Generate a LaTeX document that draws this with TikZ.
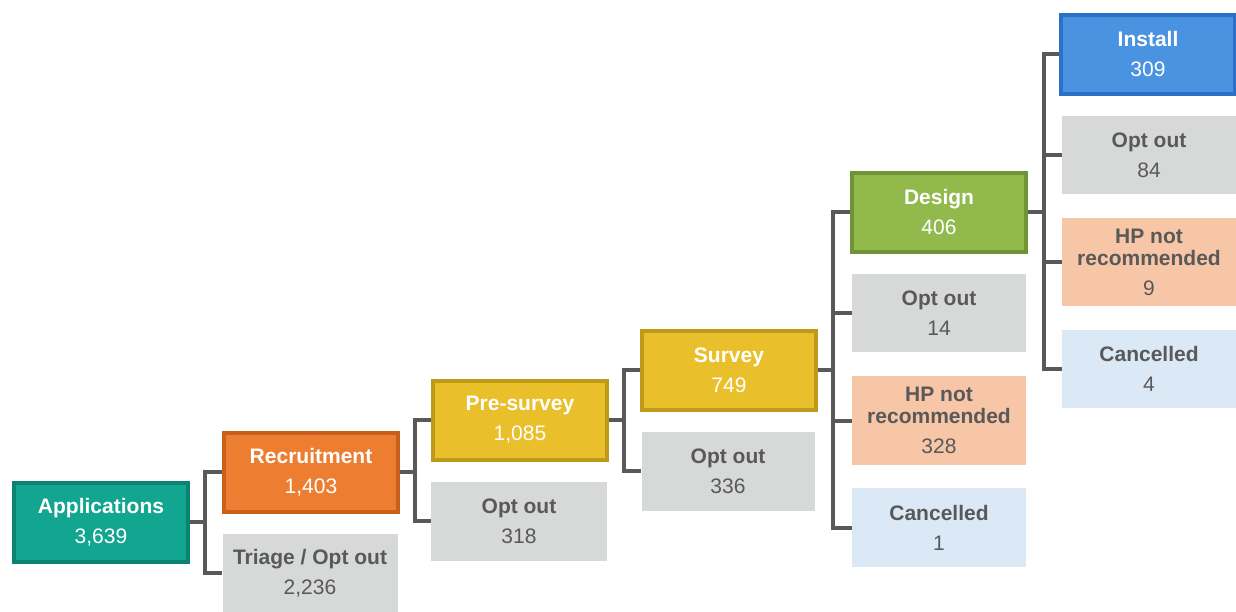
\documentclass[tikz,border=0pt]{standalone}
\usepackage{fontspec}
\setmainfont{Liberation Sans}
\definecolor{lineg}{HTML}{595959}
\definecolor{txtg}{HTML}{595959}
\definecolor{tealF}{HTML}{12A58F}
\definecolor{tealD}{HTML}{0C8272}
\definecolor{orgF}{HTML}{ED7D31}
\definecolor{orgD}{HTML}{C8601C}
\definecolor{yelF}{HTML}{E9C02B}
\definecolor{yelD}{HTML}{BF9A18}
\definecolor{grnF}{HTML}{92B94B}
\definecolor{grnD}{HTML}{6F9434}
\definecolor{bluF}{HTML}{4A93E0}
\definecolor{bluD}{HTML}{2C70C8}
\definecolor{grayF}{HTML}{D7D8D8}
\definecolor{peachF}{HTML}{F6C6A6}
\definecolor{lblueF}{HTML}{DBE9F7}
\newcommand{\bt}[2]{\textbf{#1}\\[8pt]#2}
\begin{document}
\begin{tikzpicture}[x=1pt,y=-1pt,
  every node/.style={align=center,inner sep=0pt,font=\fontsize{21}{22}\selectfont},
  stage/.style={draw=#1D,fill=#1F,line width=4pt,text=white,minimum width=174pt,minimum height=79pt},
  side/.style={fill=#1,text=txtg,minimum width=174pt,minimum height=78pt},
  conn/.style={draw=lineg,line width=4pt}]
\useasboundingbox (0,0) rectangle (1236,611);
\node[stage=teal] (app) at (101,522) {\bt{Applications}{3,639}};
\node[stage=org] (rec) at (311,472) {\bt{Recruitment}{1,403}};
\node[side=grayF,minimum width=175pt,minimum height=79pt] (tri) at (310,573) {\bt{Triage / Opt out}{2,236}};
\node[stage=yel] (pre) at (520,420) {\bt{Pre-survey}{1,085}};
\node[side=grayF,minimum width=176pt,minimum height=79pt] (oo318) at (519,521) {\bt{Opt out}{318}};
\node[stage=yel] (sur) at (729,370) {\bt{Survey}{749}};
\node[side=grayF,minimum width=173pt,minimum height=79pt] (oo336) at (728,471) {\bt{Opt out}{336}};
\node[stage=grn] (des) at (939,212) {\bt{Design}{406}};
\node[side=grayF] (oo14) at (939,313) {\bt{Opt out}{14}};
\node[side=peachF,minimum height=89pt] (hp328) at (939,420.5) {\textbf{HP not}\\\textbf{recommended}\\[8pt]328};
\node[side=lblueF,minimum height=79pt] (can1) at (939,527.5) {\bt{Cancelled}{1}};
\node[stage=blu] (ins) at (1148,54) {\bt{Install}{309}};
\node[side=grayF] (oo84) at (1149,155) {\bt{Opt out}{84}};
\node[side=peachF,minimum height=88pt] (hp9) at (1149,262) {\textbf{HP not}\\\textbf{recommended}\\[8pt]9};
\node[side=lblueF] (can4) at (1149,369) {\bt{Cancelled}{4}};
\draw[conn] (app.east) -- ++(15,0) |- (rec.west);
\draw[conn] (app.east) -- ++(15,0) |- (tri.west);
\draw[conn] (rec.east) -- ++(15,0) |- (pre.west);
\draw[conn] (rec.east) -- ++(15,0) |- (oo318.west);
\draw[conn] (pre.east) -- ++(15,0) |- (sur.west);
\draw[conn] (pre.east) -- ++(15,0) |- (oo336.west);
\draw[conn] (sur.east) -- ++(15,0) |- (des.west);
\draw[conn] (sur.east) -- ++(15,0) |- (oo14.west);
\draw[conn] (sur.east) -- ++(15,0) |- (hp328.west);
\draw[conn] (sur.east) -- ++(15,0) |- (can1.west);
\draw[conn] (des.east) -- ++(16,0) |- (ins.west);
\draw[conn] (des.east) -- ++(16,0) |- (oo84.west);
\draw[conn] (des.east) -- ++(16,0) |- (hp9.west);
\draw[conn] (des.east) -- ++(16,0) |- (can4.west);
\end{tikzpicture}
\end{document}
